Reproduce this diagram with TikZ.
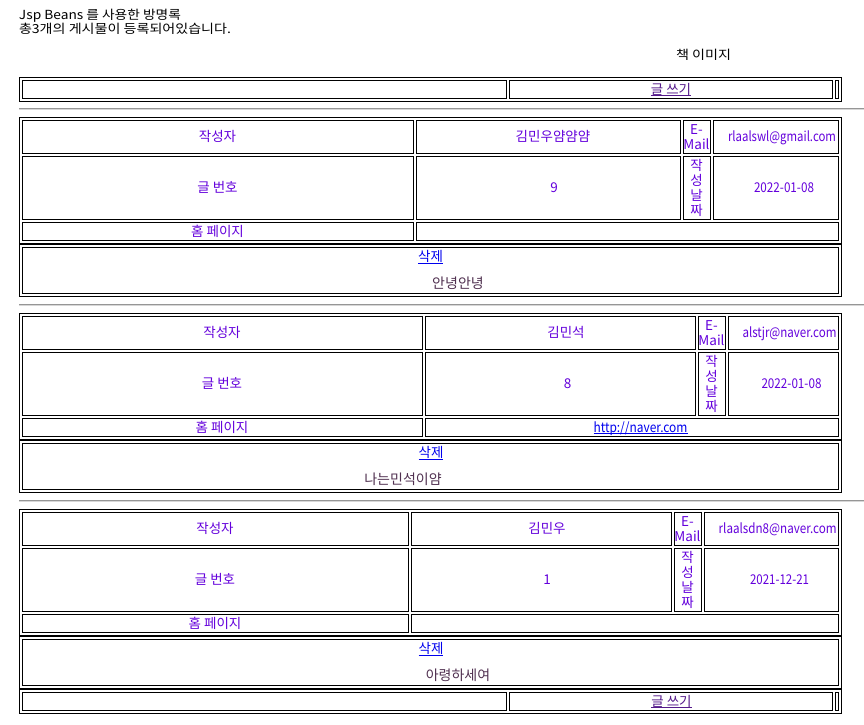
\documentclass[tikz,border=0pt]{standalone}
\usepackage{fontspec}
\setmainfont{Noto Sans CJK KR}
\usepackage{graphicx}
\definecolor{lab}{RGB}{100,0,220}
\definecolor{lnk}{RGB}{0,0,238}
\definecolor{vis}{RGB}{85,26,139}
\definecolor{bodyc}{RGB}{80,48,80}
\definecolor{hrA}{RGB}{150,150,150}
\definecolor{hrB}{RGB}{215,215,215}
\newcommand\bx[4]{\draw[bd] (#1+0.5,#2+0.5) rectangle (#3+0.5,#4+0.5);}
\newcommand\fw[2]{\resizebox{#1pt}{\height}{#2}}
\newcommand\ulin[2]{\draw[#2, line width=1pt] ([yshift=-1.8pt]#1.base west) -- ([yshift=-1.8pt]#1.base east);}
\newcommand\hsep[1]{\fill[hrA] (19,#1) rectangle (864,#1+1);\fill[hrB] (19,#1+1) rectangle (864,#1+2);}
\tikzset{
  bd/.style={draw=black, line width=1pt},
  txt/.style={inner sep=0pt, outer sep=0pt, text height=10.8pt, text depth=0.8pt, font=\fontsize{13.5}{15}\selectfont, text=lab},
  hd/.style={txt, text=black, font=\fontsize{12.5}{14}\selectfont, text height=10pt, text depth=0.7pt},
  ln/.style={txt, text=lnk},
  vl/.style={txt, text=vis},
  bt/.style={txt, text=bodyc, font=\fontsize{14}{16}\selectfont, text height=11.2pt, text depth=0.9pt},
}
\begin{document}
\begin{tikzpicture}[x=1pt,y=-1pt]
\useasboundingbox (0,0) rectangle (864,724);
\fill[white] (0,0) rectangle (864,724);
% header
\node[hd, anchor=west] (h1) at (19,14.5) {\fw{162}{Jsp Beans 를 사용한 방명록}};
\node[hd, anchor=west] (h2) at (19,29) {\fw{212}{총3개의 게시물이 등록되어있습니다.}};
\node[hd] (img) at (703.5,55.3) {\fw{55}{책 이미지}};
% top write table
\bx{19}{77}{841}{101}
\bx{22}{80}{506}{98}
\bx{509}{80}{832}{98}
\bx{835}{80}{838}{98}
\node[vl] (w1) at (671,89) {글 쓰기};
\ulin{w1}{vis}
\hsep{107.5}
% ---------- entry 1
\bx{19}{117}{841}{243}
\bx{22}{120}{413}{153}
\bx{416}{120}{680}{153}
\bx{683}{120}{710}{153}
\bx{713}{120}{838}{153}
\bx{22}{156}{413}{219}
\bx{416}{156}{680}{219}
\bx{683}{156}{710}{219}
\bx{713}{156}{838}{219}
\bx{22}{222}{413}{240}
\bx{416}{222}{838}{240}
\bx{19}{244}{841}{296}
\bx{22}{247}{838}{293}
\node[txt] (a1) at (217.5,136.5) {작성자};
\node[txt] (a2) at (553,136.5) {김민우얌얌얌};
\node[txt] (a3) at (696.5,129.5) {E-};
\node[txt] (a4) at (696.5,144) {Mail};
\node[txt] (a5) at (782,136.5) {\fw{108}{rlaalswl@gmail.com}};
\node[txt] (a6) at (217.5,187.5) {글 번호};
\node[txt] (a7) at (554,187.5) {9};
\node[txt] (a8) at (696.5,165) {작};
\node[txt] (a9) at (696.5,180) {성};
\node[txt] (a10) at (696.5,195) {날};
\node[txt] (a11) at (696.5,210) {짜};
\node[txt] (a12) at (784,187.5) {\fw{60}{2022-01-08}};
\node[txt] (a13) at (217.5,231) {홈 페이지};
\node[ln] (a14) at (430.5,256.5) {삭제};
\ulin{a14}{lnk}
\node[bt] (a15) at (458,283) {안녕안녕};
\hsep{303.5}
% ---------- entry 2
\begin{scope}[shift={(0,196)}]
\bx{19}{117}{841}{243}
\bx{22}{120}{422}{153}
\bx{425}{120}{695}{153}
\bx{698}{120}{725}{153}
\bx{728}{120}{838}{153}
\bx{22}{156}{422}{219}
\bx{425}{156}{695}{219}
\bx{698}{156}{725}{219}
\bx{728}{156}{838}{219}
\bx{22}{222}{422}{240}
\bx{425}{222}{838}{240}
\bx{19}{244}{841}{296}
\bx{22}{247}{838}{293}
\node[txt] (b1) at (222,136.5) {작성자};
\node[txt] (b2) at (566,136.5) {김민석};
\node[txt] (b3) at (711.5,129.5) {E-};
\node[txt] (b4) at (711.5,144) {Mail};
\node[txt] (b5) at (789.5,136.5) {\fw{94}{alstjr@naver.com}};
\node[txt] (b6) at (222,187.5) {글 번호};
\node[txt] (b7) at (567.5,187.5) {8};
\node[txt] (b8) at (711.5,165) {작};
\node[txt] (b9) at (711.5,180) {성};
\node[txt] (b10) at (711.5,195) {날};
\node[txt] (b11) at (711.5,210) {짜};
\node[txt] (b12) at (791.5,187.5) {\fw{60}{2022-01-08}};
\node[txt] (b13) at (222,231) {홈 페이지};
\node[ln] (b16) at (640.5,231) {\fw{94}{http://naver.com}};
\ulin{b16}{lnk}
\node[ln] (b14) at (431,256.5) {삭제};
\ulin{b14}{lnk}
\node[bt] (b15) at (403,283) {나는민석이얌};
\end{scope}
\hsep{499.5}
% ---------- entry 3
\begin{scope}[shift={(0,392)}]
\bx{19}{117}{841}{243}
\bx{22}{120}{408}{153}
\bx{411}{120}{671}{153}
\bx{674}{120}{701}{153}
\bx{704}{120}{838}{153}
\bx{22}{156}{408}{219}
\bx{411}{156}{671}{219}
\bx{674}{156}{701}{219}
\bx{704}{156}{838}{219}
\bx{22}{222}{408}{240}
\bx{411}{222}{838}{240}
\bx{19}{244}{841}{296}
\bx{22}{247}{838}{293}
\node[txt] (c1) at (215,136.5) {작성자};
\node[txt] (c2) at (547,136.5) {김민우};
\node[txt] (c3) at (687.5,129.5) {E-};
\node[txt] (c4) at (687.5,144) {Mail};
\node[txt] (c5) at (777.7,136.5) {\fw{118}{rlaalsdn8@naver.com}};
\node[txt] (c6) at (215,187.5) {글 번호};
\node[txt] (c7) at (547,187.5) {1};
\node[txt] (c8) at (687.5,165) {작};
\node[txt] (c9) at (687.5,180) {성};
\node[txt] (c10) at (687.5,195) {날};
\node[txt] (c11) at (687.5,210) {짜};
\node[txt] (c12) at (779.5,187.5) {\fw{59}{2021-12-21}};
\node[txt] (c13) at (215,231) {홈 페이지};
\node[ln] (c14) at (431,256.5) {삭제};
\ulin{c14}{lnk}
\node[bt] (c15) at (458,283) {아령하세여};
\end{scope}
% bottom write table
\bx{19}{689}{841}{713}
\bx{22}{692}{506}{710}
\bx{509}{692}{832}{710}
\bx{835}{692}{838}{710}
\node[vl] (w2) at (671.5,701) {글 쓰기};
\ulin{w2}{vis}
\end{tikzpicture}
\end{document}
